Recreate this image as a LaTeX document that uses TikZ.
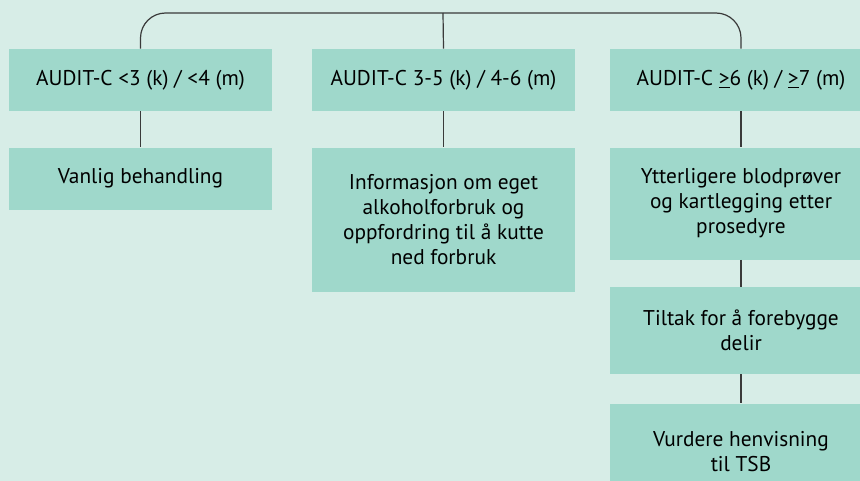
\documentclass[tikz,border=0pt]{standalone}
\usepackage{fontspec}
\setmainfont{PT Sans}
\usepackage{xcolor}
\usetikzlibrary{positioning}
\definecolor{bgmint}{HTML}{D7EDE7}
\definecolor{boxmint}{HTML}{9FD8CB}
\definecolor{linegrey}{HTML}{3A3A3A}
\tikzstyle{boxes} = [rectangle, minimum width=197.25pt, text centered, align=center,
fill=boxmint, inner sep=0pt, font=\fontsize{16}{18.75}\selectfont]
\tikzstyle{link} = [draw=linegrey, line width=0.9pt]

\begin{document}
\begin{tikzpicture}[x=0.75pt, y=-0.75pt]
        \clip (0,0) rectangle (860,481);
        \fill[bgmint] (0,0) rectangle (860,481);

        % Top row
        \node[boxes, minimum height=46.5pt] (t1) at (140.5,80) {AUDIT-C <3 (k) / <4 (m)};
        \node[boxes, minimum height=46.5pt] (t2) at (443.5,80) {AUDIT-C 3-5 (k) / 4-6 (m)};
        \node[boxes, minimum height=46.5pt] (t3) at (741,80) {AUDIT-C \underline{>}6 (k) / \underline{>}7 (m)};

        % Actions
        \node[boxes, minimum height=46.5pt, below=27pt of t1] (vanlig) {Vanlig behandling};
        \node[boxes, minimum height=108pt, below=27pt of t2] (info) {Informasjon om eget\\alkoholforbruk og\\oppfordring til å kutte\\ned forbruk};
        \node[boxes, minimum height=84pt, below=27pt of t3] (prover) {Ytterligere blodprøver\\og kartlegging etter\\prosedyre};
        \node[boxes, minimum height=65.25pt, below=20.25pt of prover] (delir) {Tiltak for å forebygge\\delir};
        \node[boxes, minimum height=72pt, below=21.75pt of delir] (tsb) {Vurdere henvisning\\til TSB};

        \coordinate (top) at (443,13);

        % Lines
        \draw[link, rounded corners=18.75pt] (t1.north) |- (top) -| (t3.north);
        \draw[link] (top) -- (t2.north);
        \draw[link] (t1) -- (vanlig);
        \draw[link] (t2) -- (info);
        \draw[link] (t3) -- (prover);
        \draw[link] (prover) -- (delir);
        \draw[link] (delir) -- (tsb);

    \end{tikzpicture}
\end{document}
